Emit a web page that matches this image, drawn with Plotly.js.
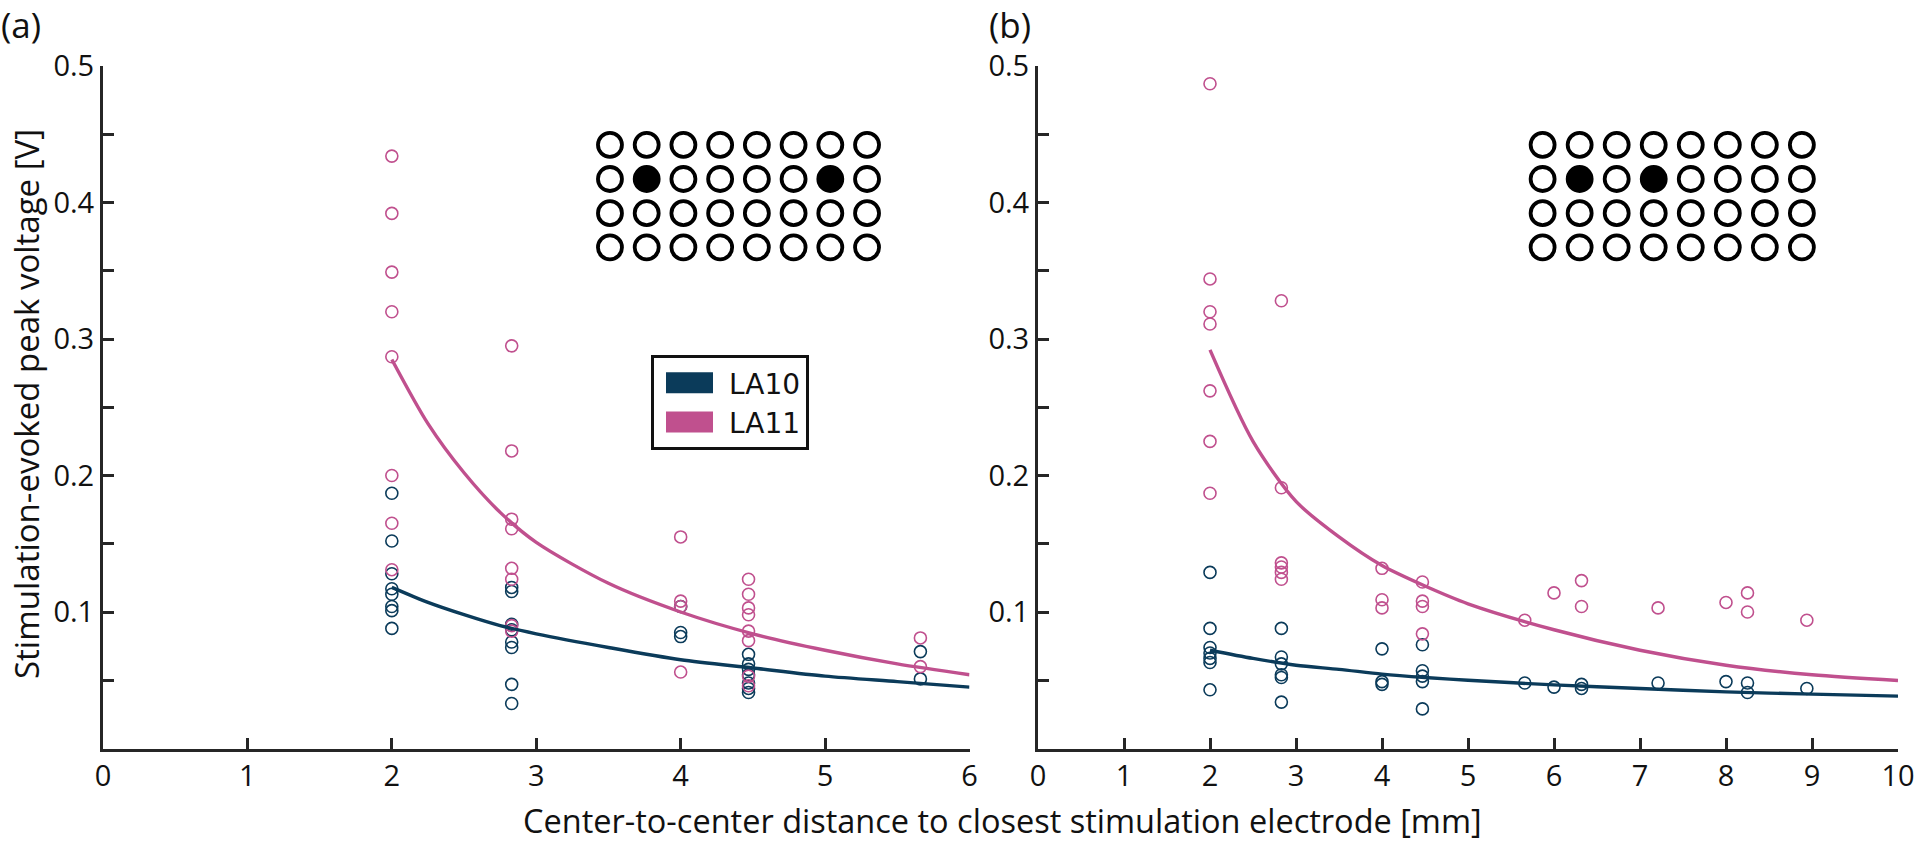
<!DOCTYPE html>
<html><head><meta charset="utf-8">
<script src="https://cdn.plot.ly/plotly-3.0.1.min.js"></script>
<style>html,body{margin:0;padding:0;background:#fff}#chart{width:1920px;height:842px}</style>
</head><body><div id="chart"></div>
<script>
// ---------- data ----------
const seriesNames = ['LA10', 'LA11'];
const panelLabels = ['(a)', '(b)'];
const xTitle = 'Center-to-center distance to closest stimulation electrode [mm]';
const yTitle = 'Stimulation-evoked peak voltage [V]';
const yTickVals = [0.1, 0.2, 0.3, 0.4, 0.5];
const yTickText = ['0.1', '0.2', '0.3', '0.4', '0.5'];
const yMinorVals = [0.05, 0.15, 0.25, 0.35, 0.45];
const xTicksA = [0, 1, 2, 3, 4, 5, 6];
const xTicksB = [0, 1, 2, 3, 4, 5, 6, 7, 8, 9, 10];

// panel (a) measurements
const aLA10x = [2,2,2,2,2,2,2,2, 2.83,2.83,2.83,2.83,2.83,2.83,2.83,2.83, 4,4,4, 4.47,4.47,4.47,4.47,4.47,4.47,4.47, 5.66,5.66];
const aLA10y = [0.187,0.152,0.128,0.117,0.113,0.104,0.101,0.088, 0.118,0.115,0.091,0.087,0.078,0.074,0.047,0.033, 0.104,0.085,0.082, 0.069,0.062,0.058,0.054,0.048,0.044,0.041, 0.071,0.051];
const aLA11x = [2,2,2,2,2,2,2,2, 2.83,2.83,2.83,2.83,2.83,2.83,2.83,2.83, 4,4,4,4, 4.47,4.47,4.47,4.47,4.47,4.47,4.47,4.47, 5.66,5.66];
const aLA11y = [0.434,0.392,0.349,0.320,0.287,0.200,0.165,0.131, 0.295,0.218,0.168,0.161,0.132,0.124,0.090,0.086, 0.155,0.108,0.104,0.056, 0.124,0.113,0.103,0.098,0.086,0.079,0.053,0.046, 0.081,0.060];
// panel (a) fitted curves
const aFitX     = [2, 2.25, 2.5, 2.75, 3, 3.5, 4, 4.5, 5, 5.5, 6];
const aFitLA10  = [0.118, 0.107, 0.098, 0.090, 0.084, 0.074, 0.065, 0.059, 0.053, 0.049, 0.045];
const aFitLA11  = [0.285, 0.238, 0.202, 0.173, 0.151, 0.121, 0.100, 0.084, 0.072, 0.062, 0.054];

// panel (b) measurements
const bLA10x = [2,2,2,2,2,2,2, 2.83,2.83,2.83,2.83,2.83,2.83, 4,4,4, 4.47,4.47,4.47,4.47,4.47, 5.66, 6, 6.32,6.32, 7.21, 8, 8.25,8.25, 8.94];
const bLA10y = [0.129,0.088,0.074,0.070,0.066,0.063,0.043, 0.088,0.067,0.062,0.054,0.052,0.034, 0.073,0.049,0.047, 0.076,0.057,0.053,0.049,0.029, 0.048, 0.045, 0.047,0.044, 0.048, 0.049, 0.048,0.041, 0.044];
const bLA11x = [2,2,2,2,2,2,2, 2.83,2.83,2.83,2.83,2.83,2.83, 4,4,4, 4.47,4.47,4.47,4.47, 5.66, 6, 6.32,6.32, 7.21, 8, 8.25,8.25, 8.94];
const bLA11y = [0.487,0.344,0.320,0.311,0.262,0.225,0.187, 0.328,0.191,0.136,0.133,0.129,0.124, 0.132,0.109,0.103, 0.122,0.108,0.104,0.084, 0.094, 0.114, 0.123,0.104, 0.103, 0.107, 0.114,0.100, 0.094];
// panel (b) fitted curves
const bFitX     = [2, 2.5, 3, 3.5, 4, 4.5, 5, 6, 7, 8, 9, 10];
const bFitLA10  = [0.072, 0.066, 0.061, 0.058, 0.0545, 0.052, 0.050, 0.0466, 0.044, 0.0415, 0.0398, 0.0384];
const bFitLA11  = [0.292, 0.225, 0.181, 0.155, 0.134, 0.119, 0.106, 0.087, 0.072, 0.061, 0.054, 0.0498];

// electrode array insets (8 columns x 4 rows), stimulation electrodes filled
const gridCols = [1, 2, 3, 4, 5, 6, 7, 8];
const gridRows = [1, 2, 3, 4];
const stimAcol = [2, 7], stimArow = [2, 2];
const stimBcol = [2, 4], stimBrow = [2, 2];

// ---------- styles ----------
const W = 1920, H = 842;
const fx = p => p / W, fy = p => 1 - p / H;
const cLA10 = '#0b3b5a', cLA11 = '#c0508e';
const ink = '#262626';
const FONT = 'Open Sans, Noto Sans, sans-serif';
const LEGFONT = 'DejaVu Sans, Open Sans, sans-serif';

function isOn(cols, rows, c, r) { for (let i = 0; i < cols.length; i++) if (cols[i] === c && rows[i] === r) return true; return false; }
function gridOpen(cols, rows) {
  const gx = [], gy = [];
  gridRows.forEach(r => gridCols.forEach(c => { if (!isOn(cols, rows, c, r)) { gx.push(c); gy.push(r); } }));
  return {x: gx, y: gy};
}

const pts = (x, y, col, xa, ya) => ({x, y, xaxis: xa, yaxis: ya, type: 'scatter', mode: 'markers', showlegend: false, hoverinfo: 'x+y',
  marker: {symbol: 'circle-open', size: 12, color: col, line: {width: 1.6, color: col}}});
const fit = (x, y, col, xa, ya) => ({x, y, xaxis: xa, yaxis: ya, type: 'scatter', mode: 'lines', showlegend: false, hoverinfo: 'skip',
  line: {color: col, width: 3.4, shape: 'spline', smoothing: 0.8}});

const openA = gridOpen(stimAcol, stimArow), openB = gridOpen(stimBcol, stimBrow);
const elecOpen = (g, xa, ya) => ({x: g.x, y: g.y, xaxis: xa, yaxis: ya, type: 'scatter', mode: 'markers', showlegend: false, hoverinfo: 'skip',
  marker: {symbol: 'circle-open', size: 24, color: '#000', line: {width: 3.8, color: '#000'}}});
const elecFill = (c, r, xa, ya) => ({x: c, y: r, xaxis: xa, yaxis: ya, type: 'scatter', mode: 'markers', showlegend: false, hoverinfo: 'skip',
  marker: {symbol: 'circle', size: 24, color: '#000', line: {width: 3.8, color: '#000'}}});

const data = [
  pts(aLA10x, aLA10y, cLA10, 'x', 'y'),
  pts(aLA11x, aLA11y, cLA11, 'x', 'y'),
  fit(aFitX, aFitLA10, cLA10, 'x', 'y'),
  fit(aFitX, aFitLA11, cLA11, 'x', 'y'),
  pts(bLA10x, bLA10y, cLA10, 'x2', 'y2'),
  pts(bLA11x, bLA11y, cLA11, 'x2', 'y2'),
  fit(bFitX, bFitLA10, cLA10, 'x2', 'y2'),
  fit(bFitX, bFitLA11, cLA11, 'x2', 'y2'),
  elecOpen(openA, 'x3', 'y3'), elecFill(stimAcol, stimArow, 'x3', 'y3'),
  elecOpen(openB, 'x4', 'y4'), elecFill(stimBcol, stimBrow, 'x4', 'y4'),
  // legend entries (thick colour patches)
  {x: [null], y: [null], type: 'scatter', mode: 'lines', name: seriesNames[0], line: {color: cLA10, width: 10}, xaxis: 'x', yaxis: 'y'},
  {x: [null], y: [null], type: 'scatter', mode: 'lines', name: seriesNames[1], line: {color: cLA11, width: 10}, xaxis: 'x', yaxis: 'y'}
];

const axBase = {showline: true, linewidth: 3, linecolor: ink, ticks: 'inside', ticklen: 11, tickwidth: 3, tickcolor: ink,
  showgrid: false, zeroline: false, fixedrange: true, tickfont: {family: FONT, size: 29, color: '#111'}};
const yAx = Object.assign({}, axBase, {domain: [fy(748.5), fy(66)], range: [0, 0.5], tickmode: 'array', tickvals: yTickVals, ticktext: yTickText,
  minor: {tickmode: 'array', tickvals: yMinorVals, ticks: 'inside', ticklen: 11, tickwidth: 3, tickcolor: ink, showgrid: false}});
const hid = {visible: false, fixedrange: true, showgrid: false, zeroline: false};

const layout = {
  width: W, height: H, margin: {l: 0, r: 0, t: 0, b: 0},
  paper_bgcolor: '#fff', plot_bgcolor: 'rgba(0,0,0,0)',
  font: {family: FONT, size: 28, color: '#111'},
  showlegend: true,
  legend: {x: fx(651), y: fy(355), xanchor: 'left', yanchor: 'top', bgcolor: '#fff', bordercolor: '#111', borderwidth: 3,
    font: {family: LEGFONT, size: 28, color: '#111'}, itemwidth: 65, tracegroupgap: 0},
  xaxis: Object.assign({}, axBase, {domain: [fx(103), fx(969.5)], range: [0, 6], tickmode: 'array', tickvals: xTicksA, anchor: 'y'}),
  yaxis: Object.assign({}, yAx, {anchor: 'x'}),
  xaxis2: Object.assign({}, axBase, {domain: [fx(1038), fx(1898)], range: [0, 10], tickmode: 'array', tickvals: xTicksB, anchor: 'y2'}),
  yaxis2: Object.assign({}, yAx, {anchor: 'x2'}),
  xaxis3: Object.assign({}, hid, {domain: [fx(591.6), fx(885.4)], range: [0.5, 8.5], anchor: 'y3'}),
  yaxis3: Object.assign({}, hid, {domain: [fy(264.5), fy(127.7)], range: [4.5, 0.5], anchor: 'x3'}),
  xaxis4: Object.assign({}, hid, {domain: [fx(1524.1), fx(1820.4)], range: [0.5, 8.5], anchor: 'y4'}),
  yaxis4: Object.assign({}, hid, {domain: [fy(264.5), fy(127.7)], range: [4.5, 0.5], anchor: 'x4'}),
  annotations: [
    {text: panelLabels[0], xref: 'paper', yref: 'paper', x: fx(0), y: fy(25), xanchor: 'left', yanchor: 'middle', borderpad: 0, showarrow: false, font: {family: FONT, size: 35, color: '#111'}},
    {text: panelLabels[1], xref: 'paper', yref: 'paper', x: fx(988), y: fy(25), xanchor: 'left', yanchor: 'middle', borderpad: 0, showarrow: false, font: {family: FONT, size: 35, color: '#111'}},
    {text: xTitle, xref: 'paper', yref: 'paper', x: fx(1003), y: fy(820), xanchor: 'center', yanchor: 'middle', showarrow: false, font: {family: FONT, size: 32.5, color: '#111'}},
    {text: yTitle, xref: 'paper', yref: 'paper', x: fx(26), y: fy(404), xanchor: 'center', yanchor: 'middle', textangle: -90, showarrow: false, font: {family: FONT, size: 33, color: '#111'}}
  ]
};

const gd = document.getElementById('chart');
function thickenLegend() {
  gd.querySelectorAll('.legend path.js-line').forEach(p => {
    p.setAttribute('d', 'M12,0h47');
    p.style.strokeWidth = '21px';
    p.style.strokeLinecap = 'butt';
  });
}
Plotly.newPlot(gd, data, layout, {staticPlot: true, displayModeBar: false}).then(() => {
  thickenLegend();
  gd.on('plotly_afterplot', thickenLegend);
});
</script>
</body></html>
